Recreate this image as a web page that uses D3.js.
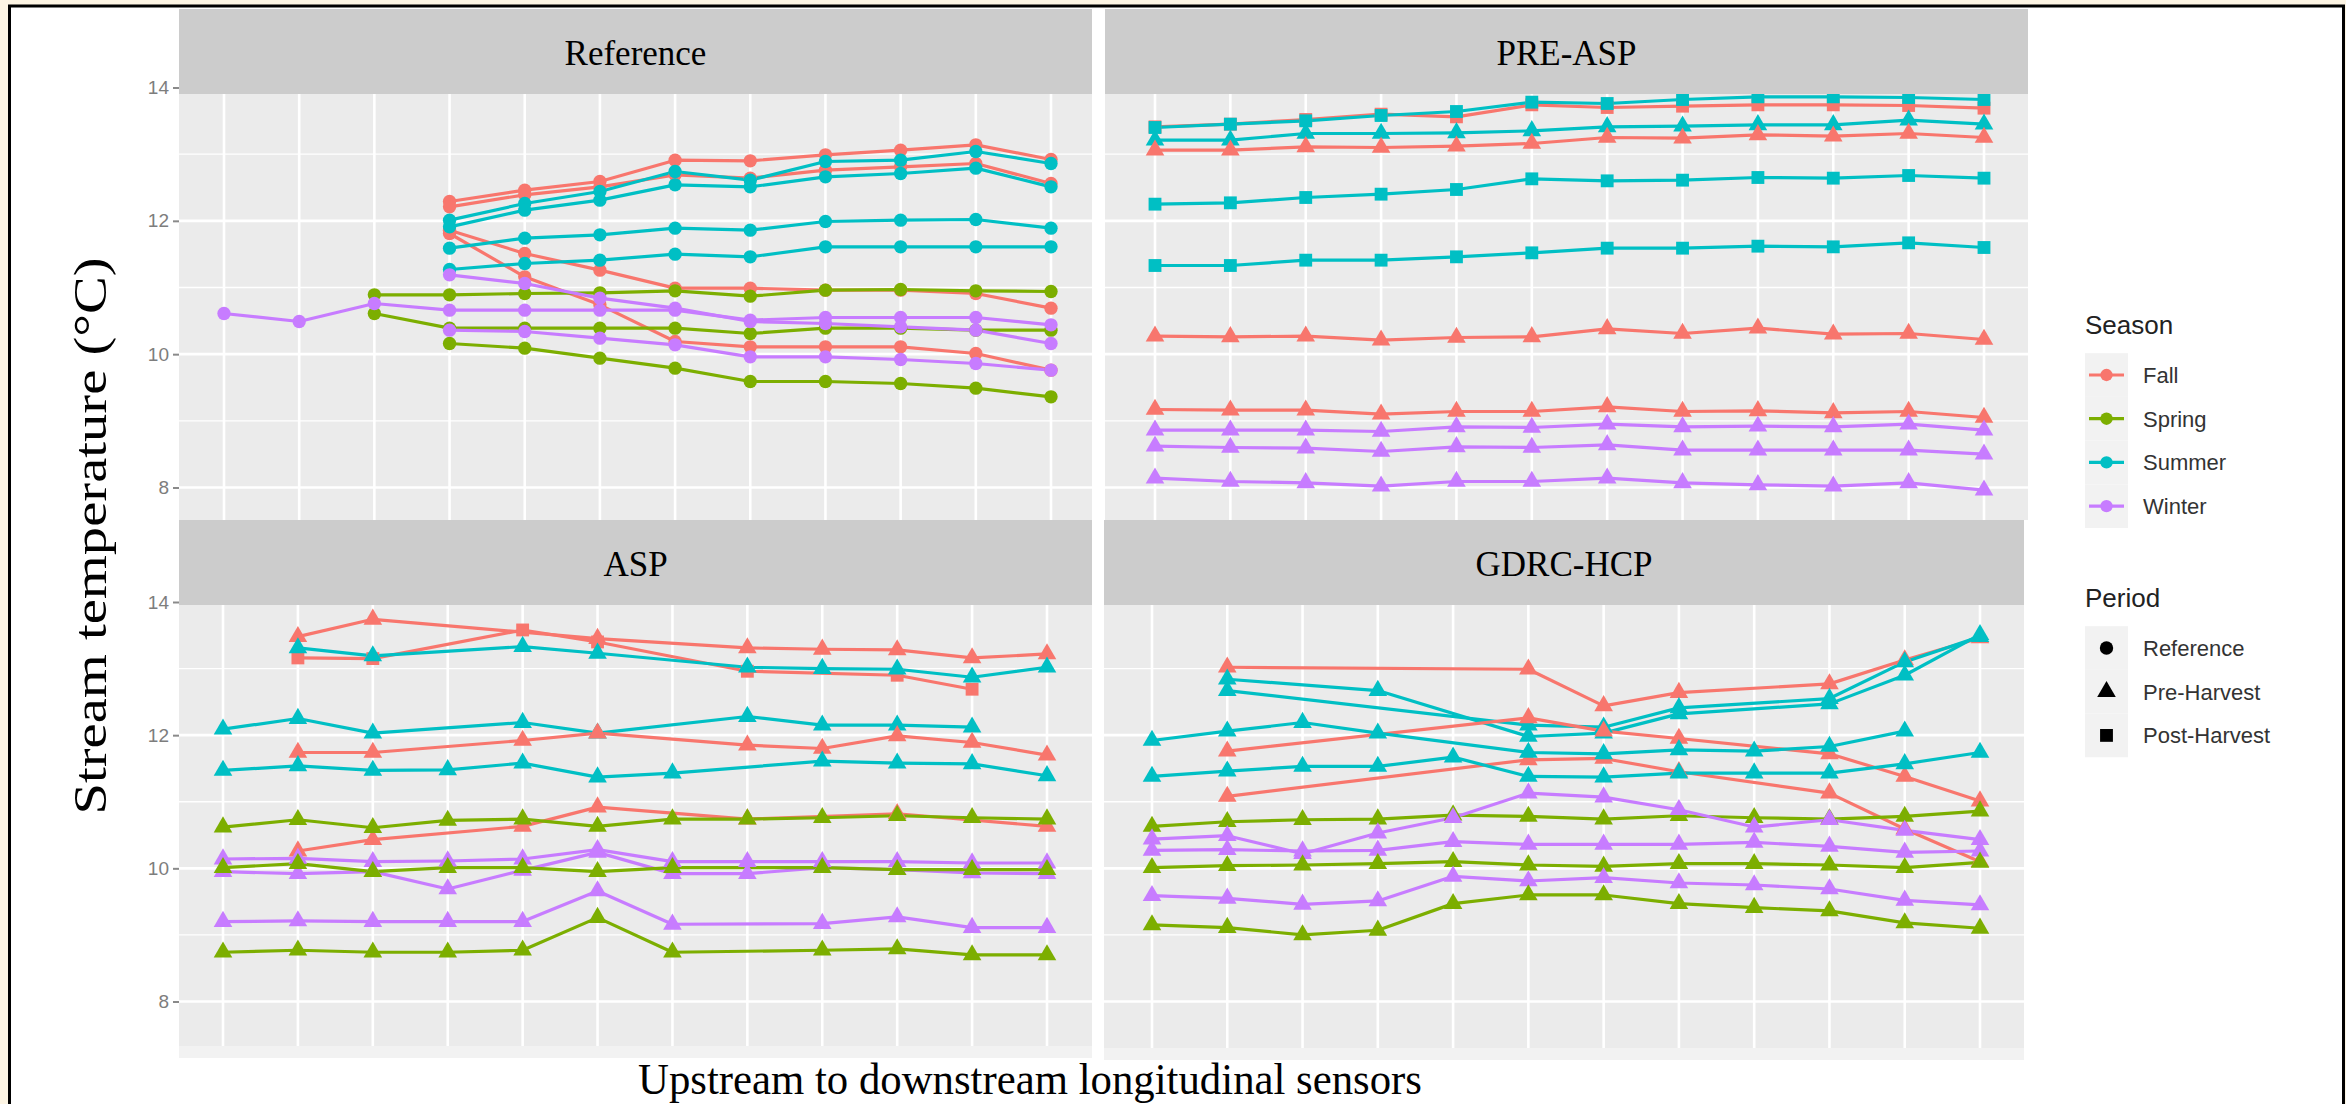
<!DOCTYPE html>
<html><head><meta charset="utf-8">
<script src="https://cdn.jsdelivr.net/npm/d3@7"></script>
<style>body{margin:0;background:#fdf5e4;} svg{display:block}</style>
</head><body><svg id="chart" width="2346" height="1104"></svg>
<script>
// ---------------- DATA ----------------
const sensors = ["S1","S2","S3","S4","S5","S6","S7","S8","S9","S10","S11","S12"];
const seasons = ["Fall","Spring","Summer","Winter"];
const periods = ["Reference","Pre-Harvest","Post-Harvest"];
const panelNames = ["Reference","PRE-ASP","ASP","GDRC-HCP"];
const yTicks = [8,10,12,14];
const yMinorTicks = [9,11,13];
const n = null;

// Reference panel (period: Reference)
const refFall1 = [n,n,n,12.29,12.46,12.59,12.91,12.90,12.99,13.06,13.14,12.92];
const refFall2 = [n,n,n,12.21,12.39,12.51,12.69,12.64,12.76,12.81,12.86,12.56];
const refFall3 = [n,n,n,11.86,11.51,11.26,10.99,10.99,10.96,10.96,10.91,10.69];
const refFall4 = [n,n,n,11.81,11.16,10.74,10.19,10.11,10.11,10.11,10.01,9.76];
const refSpr1 = [n,n,10.89,10.89,10.91,10.92,10.95,10.87,10.96,10.97,10.95,10.94];
const refSpr2 = [n,n,10.61,10.39,10.39,10.39,10.39,10.31,10.39,10.39,10.36,10.36];
const refSpr3 = [n,n,n,10.16,10.09,9.94,9.79,9.59,9.59,9.56,9.49,9.36];
const refSum1 = [n,n,n,12.01,12.26,12.44,12.74,12.61,12.89,12.91,13.04,12.86];
const refSum2 = [n,n,n,11.91,12.16,12.31,12.54,12.51,12.66,12.71,12.79,12.51];
const refSum3 = [n,n,n,11.59,11.74,11.79,11.89,11.86,11.99,12.01,12.02,11.89];
const refSum4 = [n,n,n,11.27,11.36,11.41,11.50,11.46,11.61,11.61,11.61,11.61];
const refWin1 = [10.61,10.49,10.76,10.66,10.66,10.66,10.66,10.51,10.55,10.55,10.55,10.44];
const refWin2 = [n,n,n,11.19,11.06,10.84,10.69,10.49,10.46,10.41,10.36,10.16];
const refWin3 = [n,n,n,10.36,10.34,10.24,10.14,9.96,9.96,9.92,9.86,9.76];

// PRE-ASP panel
const preFallSq  = [13.41,13.45,13.52,13.60,13.56,13.74,13.70,13.72,13.74,13.74,13.73,13.69];
const preSumSq1  = [13.40,13.45,13.50,13.58,13.64,13.78,13.76,13.82,13.86,13.86,13.85,13.82];
const preSumTri  = [13.21,13.21,13.31,13.31,13.32,13.35,13.41,13.42,13.44,13.44,13.51,13.45];
const preFallTri1= [13.06,13.06,13.11,13.10,13.12,13.16,13.25,13.24,13.29,13.27,13.31,13.25];
const preSumSq2  = [12.25,12.27,12.35,12.40,12.47,12.63,12.60,12.61,12.65,12.64,12.68,12.64];
const preSumSq3  = [11.33,11.33,11.41,11.41,11.46,11.52,11.59,11.59,11.62,11.61,11.67,11.60];
const preFallTri2= [10.27,10.26,10.27,10.21,10.25,10.26,10.38,10.31,10.39,10.30,10.31,10.22];
const preFallTri3= [9.17,9.16,9.16,9.10,9.14,9.14,9.21,9.14,9.15,9.12,9.14,9.05];
const preWinTri1 = [8.86,8.86,8.86,8.84,8.91,8.90,8.95,8.91,8.92,8.91,8.95,8.86];
const preWinTri2 = [8.62,8.60,8.59,8.54,8.61,8.60,8.64,8.56,8.56,8.56,8.56,8.50];
const preWinTri3 = [8.14,8.09,8.07,8.02,8.09,8.09,8.14,8.07,8.04,8.02,8.07,7.96];

// ASP panel
const aspFallTri1 = [n,13.48,13.74,n,n,13.45,n,13.31,13.29,13.28,13.16,13.22];
const aspFallSq   = [n,13.16,13.15,n,13.58,13.40,n,12.96,n,12.90,12.69,n];
const aspSumTri1  = [n,13.31,13.19,n,13.33,13.23,n,13.02,13.00,12.99,12.87,13.02];
const aspSumTri2  = [12.09,12.25,12.03,n,12.19,12.03,n,12.28,12.15,12.15,12.12,n];
const aspFallTri2 = [n,11.74,11.74,n,11.92,12.03,n,11.85,11.80,11.99,11.89,11.70];
const aspSumTri3  = [11.47,11.54,11.47,11.48,11.58,11.37,11.43,n,11.61,11.58,11.57,11.39];
const aspFallTri3 = [n,10.26,10.43,n,10.63,10.92,n,10.74,n,10.82,n,10.63];
const aspSprTri1  = [10.62,10.73,10.61,10.72,10.74,10.63,10.74,10.74,10.76,10.79,10.76,10.74];
const aspWinTri1  = [10.14,10.15,10.10,10.11,10.14,10.28,10.10,10.10,10.10,10.10,10.08,10.08];
const aspWinTri2  = [9.95,9.92,9.95,9.69,9.97,10.24,9.92,9.92,10.01,9.98,9.93,9.92];
const aspSprTri2  = [10.01,10.07,9.95,10.01,10.01,9.95,10.01,n,10.01,9.98,9.98,9.98];
const aspWinTri3  = [9.20,9.21,9.20,9.20,9.20,9.66,9.16,n,9.17,9.27,9.11,9.11];
const aspSprTri3  = [8.74,8.77,8.74,8.74,8.77,9.26,8.74,n,8.77,8.79,8.70,8.70];

// GDRC-HCP panel
const gdrcFall1 = [n,13.02,n,n,n,12.99,12.44,12.64,n,12.77,13.13,13.46];
const gdrcSum1  = [n,12.84,n,12.67,n,11.98,12.03,12.32,n,12.47,12.90,13.51];
const gdrcSum2  = [n,12.67,n,n,n,12.15,12.12,12.41,n,12.55,13.10,13.48];
const gdrcFall2 = [n,11.76,n,n,n,12.26,12.06,11.95,n,11.72,11.38,11.01];
const gdrcFall3 = [n,11.08,n,n,n,11.63,11.65,11.45,n,11.13,10.59,10.10];
const gdrcSum3  = [11.92,12.06,12.19,12.03,n,11.74,11.72,11.78,11.76,11.83,12.06,n];
const gdrcSum4  = [11.38,11.46,11.53,11.53,11.67,11.38,11.37,11.43,11.43,11.43,11.57,11.74];
const gdrcSpr1  = [10.63,10.70,10.73,10.74,10.80,10.78,10.74,10.79,10.76,10.74,10.78,10.86];
const gdrcWin1  = [10.44,10.49,10.22,10.53,10.76,11.13,11.07,10.88,10.62,10.73,10.57,10.43];
const gdrcWin2  = [10.27,10.28,10.26,10.27,10.40,10.36,10.36,10.36,10.39,10.33,10.24,10.26];
const gdrcSpr2  = [10.01,10.04,10.05,10.07,10.10,10.05,10.03,10.07,10.07,10.05,10.01,10.09];
const gdrcWin3  = [9.59,9.55,9.46,9.51,9.88,9.81,9.86,9.78,9.75,9.69,9.52,9.45];
const gdrcSpr3  = [9.15,9.11,9.00,9.07,9.47,9.60,9.60,9.47,9.41,9.36,9.18,9.10];

const series = [
  ["Reference","Fall","Reference",refFall1],["Reference","Fall","Reference",refFall2],
  ["Reference","Fall","Reference",refFall3],["Reference","Fall","Reference",refFall4],
  ["Reference","Spring","Reference",refSpr1],["Reference","Spring","Reference",refSpr2],
  ["Reference","Spring","Reference",refSpr3],
  ["Reference","Summer","Reference",refSum1],["Reference","Summer","Reference",refSum2],
  ["Reference","Summer","Reference",refSum3],["Reference","Summer","Reference",refSum4],
  ["Reference","Winter","Reference",refWin1],["Reference","Winter","Reference",refWin2],
  ["Reference","Winter","Reference",refWin3],
  ["PRE-ASP","Fall","Post-Harvest",preFallSq],["PRE-ASP","Summer","Post-Harvest",preSumSq1],
  ["PRE-ASP","Summer","Pre-Harvest",preSumTri],["PRE-ASP","Fall","Pre-Harvest",preFallTri1],
  ["PRE-ASP","Summer","Post-Harvest",preSumSq2],["PRE-ASP","Summer","Post-Harvest",preSumSq3],
  ["PRE-ASP","Fall","Pre-Harvest",preFallTri2],["PRE-ASP","Fall","Pre-Harvest",preFallTri3],
  ["PRE-ASP","Winter","Pre-Harvest",preWinTri1],["PRE-ASP","Winter","Pre-Harvest",preWinTri2],
  ["PRE-ASP","Winter","Pre-Harvest",preWinTri3],
  ["ASP","Fall","Pre-Harvest",aspFallTri1],["ASP","Fall","Post-Harvest",aspFallSq],
  ["ASP","Summer","Pre-Harvest",aspSumTri1],["ASP","Summer","Pre-Harvest",aspSumTri2],
  ["ASP","Fall","Pre-Harvest",aspFallTri2],["ASP","Summer","Pre-Harvest",aspSumTri3],
  ["ASP","Fall","Pre-Harvest",aspFallTri3],["ASP","Spring","Pre-Harvest",aspSprTri1],
  ["ASP","Winter","Pre-Harvest",aspWinTri1],["ASP","Winter","Pre-Harvest",aspWinTri2],
  ["ASP","Spring","Pre-Harvest",aspSprTri2],["ASP","Winter","Pre-Harvest",aspWinTri3],
  ["ASP","Spring","Pre-Harvest",aspSprTri3],
  ["GDRC-HCP","Fall","Pre-Harvest",gdrcFall1],["GDRC-HCP","Summer","Pre-Harvest",gdrcSum1],
  ["GDRC-HCP","Summer","Pre-Harvest",gdrcSum2],["GDRC-HCP","Fall","Pre-Harvest",gdrcFall2],
  ["GDRC-HCP","Fall","Pre-Harvest",gdrcFall3],["GDRC-HCP","Summer","Pre-Harvest",gdrcSum3],
  ["GDRC-HCP","Summer","Pre-Harvest",gdrcSum4],["GDRC-HCP","Spring","Pre-Harvest",gdrcSpr1],
  ["GDRC-HCP","Winter","Pre-Harvest",gdrcWin1],["GDRC-HCP","Winter","Pre-Harvest",gdrcWin2],
  ["GDRC-HCP","Spring","Pre-Harvest",gdrcSpr2],["GDRC-HCP","Winter","Pre-Harvest",gdrcWin3],
  ["GDRC-HCP","Spring","Pre-Harvest",gdrcSpr3]
].map(([panel,season,period,values]) => ({panel,season,period,values}));

// ---------------- LAYOUT ----------------
const svg = d3.select("#chart");
const W = 2346, H = 1104;
const color = d3.scaleOrdinal().domain(seasons).range(["#F8766D","#7CAE00","#00BFC4","#C77CFF"]);
const shape = d3.scaleOrdinal().domain(periods).range([d3.symbolCircle, d3.symbolTriangle, d3.symbolSquare]);
const shapeSize = d3.scaleOrdinal().domain(periods).range([140, 150, 165]);

svg.append("rect").attr("width",W).attr("height",H).attr("fill","#fdf5e4");
svg.append("rect").attr("x",9.5).attr("y",6).attr("width",2334).attr("height",1110)
  .attr("fill","#ffffff").attr("stroke","#000").attr("stroke-width",3);

const layout = {
  "Reference": {x0:179, x1:1092, px0:224, px1:1051, gy0:94,  gy1:520,  sy0:9,   sy1:94,  y14:87.5, y8:487.5, labels:true},
  "PRE-ASP":   {x0:1105,x1:2028, px0:1155,px1:1984, gy0:94,  gy1:520,  sy0:9,   sy1:94,  y14:87.5, y8:487.5, labels:false},
  "ASP":       {x0:179, x1:1092, px0:223, px1:1047, gy0:604, gy1:1046, sy0:520, sy1:605, y14:602,  y8:1001.5, labels:true},
  "GDRC-HCP":  {x0:1104,x1:2024, px0:1152,px1:1980, gy0:604, gy1:1048, sy0:520, sy1:605, y14:602,  y8:1001.5, labels:false}
};

panelNames.forEach(name => {
  const L = layout[name];
  const x = d3.scalePoint().domain(sensors).range([L.px0, L.px1]);
  const y = d3.scaleLinear().domain([8,14]).range([L.y8, L.y14]);
  const g = svg.append("g");
  g.append("rect").attr("x",L.x0).attr("y",L.gy0).attr("width",L.x1-L.x0).attr("height",L.gy1-L.gy0).attr("fill","#EBEBEB");
  if (L.gy1 > 1000) g.append("rect").attr("x",L.x0).attr("y",L.gy1).attr("width",L.x1-L.x0).attr("height",12).attr("fill","#f2f2f2");
  const inside = v => y(v) > L.gy0 && y(v) < L.gy1;
  g.selectAll(".mn").data(yMinorTicks.filter(inside)).join("line")
    .attr("x1",L.x0).attr("x2",L.x1).attr("y1",d=>y(d)).attr("y2",d=>y(d))
    .attr("stroke","#fff").attr("stroke-width",1.3);
  g.selectAll(".mj").data(yTicks.filter(inside)).join("line")
    .attr("x1",L.x0).attr("x2",L.x1).attr("y1",d=>y(d)).attr("y2",d=>y(d))
    .attr("stroke","#fff").attr("stroke-width",2.6);
  g.selectAll(".vx").data(sensors).join("line")
    .attr("x1",d=>x(d)).attr("x2",d=>x(d)).attr("y1",L.gy0).attr("y2",L.gy1)
    .attr("stroke","#fff").attr("stroke-width",2.6);

  if (L.labels) {
    const ax = g.append("g").attr("transform",`translate(${L.x0},0)`)
      .call(d3.axisLeft(y).tickValues(yTicks).tickSize(6).tickPadding(4).tickFormat(d3.format("d")));
    ax.select(".domain").remove();
    ax.selectAll(".tick line").attr("stroke","#8a8a8a").attr("stroke-width",2);
    ax.selectAll(".tick text").attr("fill","#7d7d7d").attr("font-size",19)
      .attr("font-family","Liberation Sans, Arial, sans-serif");
  }

  const ss = series.filter(s => s.panel === name);
  const line = d3.line().x(d=>x(d.s)).y(d=>y(d.v));
  ss.forEach(s => {
    const pts = s.values.map((v,i)=>({s:sensors[i], v})).filter(d=>d.v!==null);
    g.append("path").datum(pts).attr("d",line).attr("fill","none")
      .attr("stroke",color(s.season)).attr("stroke-width",3.2).attr("stroke-linejoin","round");
  });
  ss.forEach(s => {
    const pts = s.values.map((v,i)=>({s:sensors[i], v})).filter(d=>d.v!==null);
    g.selectAll(null).data(pts).join("path")
      .attr("d", d3.symbol().type(shape(s.period)).size(shapeSize(s.period)))
      .attr("transform", d=>`translate(${x(d.s)},${y(d.v)})`)
      .attr("fill",color(s.season));
  });

  g.append("rect").attr("x",L.x0).attr("y",L.sy0).attr("width",L.x1-L.x0).attr("height",L.sy1-L.sy0).attr("fill","#CCCCCC");
  g.append("text").attr("x",(L.x0+L.x1)/2).attr("y",(L.sy0+L.sy1)/2+13)
    .attr("text-anchor","middle").attr("font-family","Liberation Serif, Times New Roman, serif")
    .attr("font-size",35).attr("fill","#000").text(name);
});

// axis titles
svg.append("text").attr("transform","translate(106,536) rotate(-90)")
  .attr("text-anchor","middle").attr("font-family","Liberation Serif, Times New Roman, serif")
  .attr("font-size",46).attr("textLength",557).attr("lengthAdjust","spacingAndGlyphs")
  .attr("fill","#000").text("Stream temperature (°C)");
svg.append("text").attr("x",1030).attr("y",1094)
  .attr("text-anchor","middle").attr("font-family","Liberation Serif, Times New Roman, serif")
  .attr("font-size",44).attr("textLength",784).attr("lengthAdjust","spacingAndGlyphs")
  .attr("fill","#000").text("Upstream to downstream longitudinal sensors");

// legends
const lg = svg.append("g").attr("font-family","Liberation Sans, Arial, sans-serif");
const keyX = 2085, keyW = 43, keyH = 43.7, labelX = 2143;
lg.append("text").attr("x",keyX).attr("y",334).attr("font-size",26).attr("fill","#222").text("Season");
seasons.forEach((s,i) => {
  const cy = 375 + i*keyH;
  lg.append("rect").attr("x",keyX).attr("y",cy-keyH/2).attr("width",keyW).attr("height",keyH).attr("fill","#f2f2f2");
  lg.append("line").attr("x1",keyX+4).attr("x2",keyX+keyW-4).attr("y1",cy).attr("y2",cy)
    .attr("stroke",color(s)).attr("stroke-width",3.2);
  lg.append("path").attr("d",d3.symbol().type(d3.symbolCircle).size(120)).attr("transform",`translate(${keyX+keyW/2},${cy})`).attr("fill",color(s));
  lg.append("text").attr("x",labelX).attr("y",cy+8).attr("font-size",22).attr("fill","#333").text(s);
});
lg.append("text").attr("x",keyX).attr("y",607).attr("font-size",26).attr("fill","#222").text("Period");
periods.forEach((p,i) => {
  const cy = 648 + i*keyH;
  lg.append("rect").attr("x",keyX).attr("y",cy-keyH/2).attr("width",keyW).attr("height",keyH).attr("fill","#f2f2f2");
  lg.append("path").attr("d",d3.symbol().type(shape(p)).size(shapeSize(p))).attr("transform",`translate(${keyX+keyW/2},${cy})`).attr("fill","#000");
  lg.append("text").attr("x",labelX).attr("y",cy+8).attr("font-size",22).attr("fill","#333").text(p);
});
</script></body></html>
